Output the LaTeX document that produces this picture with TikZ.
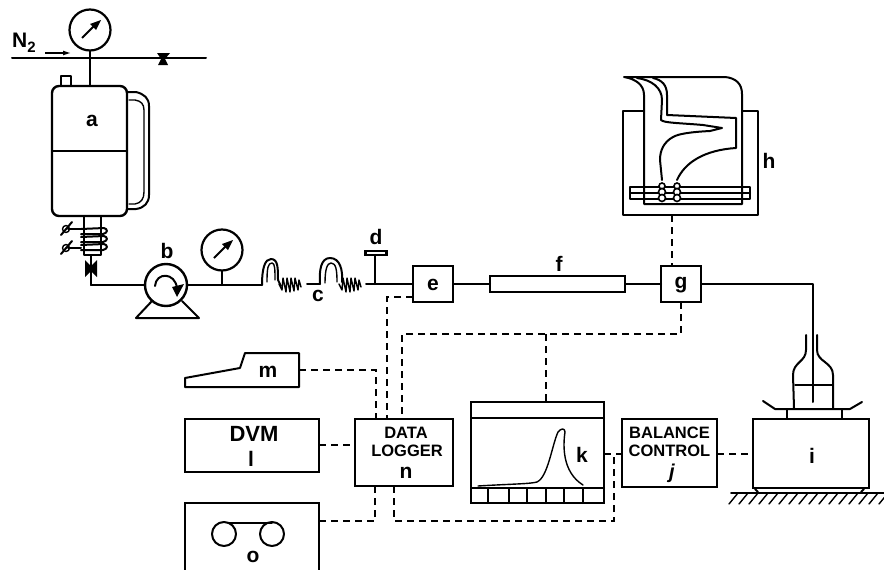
\documentclass[tikz,border=0pt]{standalone}
\usepackage{fontspec}
\setmainfont{Liberation Sans}
\usetikzlibrary{calc,arrows.meta}
\tikzset{
  x=1pt,y=-1pt,
  ln/.style={line width=2pt,black,line cap=round,line join=round},
  thinln/.style={line width=1.4pt,black,line cap=round,line join=round},
  dsh/.style={line width=1.7pt,black,dash pattern=on 7pt off 5pt},
  boxn/.style={draw,line width=2.3pt,inner sep=0pt,outer sep=0pt},
  lab/.style={font=\bfseries\fontsize{21}{22}\selectfont,inner sep=0pt},
  smalllab/.style={font=\bfseries\fontsize{16.5}{18}\selectfont,inner sep=0pt},
}
\newcommand{\gaugeat}[2]{%
  \node[draw,circle,line width=2.2pt,minimum size=41pt,inner sep=0pt,outer sep=0pt] (#2) at #1 {};
  \draw[line width=2pt] ($(#2)+(-8,8)$) -- ($(#2)+(5,-5)$);
  \fill ($(#2)+(11,-10)$) -- ($(#2)+(0,-6)$) -- ($(#2)+(6,0)$) -- cycle;
}
\newcommand{\coilat}[2]{%
  \draw[thinln] (#1,#2) -- ++(3,6) -- ++(1,-12) -- ++(3,14) -- ++(1,-14) -- ++(3,14) -- ++(1,-14) -- ++(3,13) -- ++(1,-13) -- ++(3,12) -- ++(1,-10) -- ++(2,7);
}
\begin{document}
\begin{tikzpicture}
\useasboundingbox (0,0) rectangle (884,570);
% nitrogen line and gauge
\coordinate (n2a) at (12,58);
\coordinate (n2b) at (206,58);
\draw[ln] (n2a) -- (n2b);
\fill (157,53) -- (170,53) -- (165,59) -- (168,65) -- (158,65) -- (161,59) -- cycle;
\node[lab] (n2) at (24,43) {N\raisebox{-5pt}{\fontsize{15}{15}\selectfont 2}};
\coordinate (ar1) at (45,53); \coordinate (ar2) at (71,53);
\draw[line width=1.2pt,-{Latex[length=8pt,width=5pt]}] (ar1) -- (ar2);
\gaugeat{(90,30)}{ga}
% vessel a
\node[draw,line width=2.4pt,rounded corners=7pt,minimum width=75pt,minimum height=130pt,inner sep=0pt,outer sep=0pt] (a) at (89.5,151) {};
\draw[ln] (a.west) -- (a.east);
\coordinate (atop) at (90,86);
\draw[ln] (ga.south) -- (atop);
\draw[ln] (61,85) -- (61,76) -- (71,76) -- (71,85);
\node[lab] (la) at (92,121) {a};
% side tube
\draw[ln] (128,92) -- (136,92) .. controls (144,94) and (149,98) .. (149,106) -- (149,195) .. controls (149,203) and (144,208) .. (136,209) -- (128,209);
\draw[thinln] (129,100) -- (135,100) .. controls (141,101) and (144,104) .. (144,110) -- (144,192) .. controls (144,199) and (141,203) .. (135,204) -- (129,204);
% neck and coil
\draw[ln] (84,217) -- (84,255) -- (101,255) -- (101,217);
\foreach \yy in {229,237,245}{\draw[ln] (81,\yy) -- (104,\yy-1) .. controls (108,\yy) and (108,\yy+4) .. (103,\yy+5) -- (81,\yy+5);}
\foreach \yy in {229,248}{
  \draw[ln] (68,\yy) -- (81,\yy);
  \draw[thinln] (66,\yy) circle (3.5);
  \draw[ln] (61,\yy+6) -- (72,\yy-7);
}
\coordinate (vlv) at (91,268);
\coordinate (corner) at (91,285);
\draw[ln] (91,255) -- (vlv) -- (corner);
\fill (85,260) -- (91,266) -- (97,260) -- (97,277) -- (91,271) -- (85,277) -- cycle;
% pump b
\node[draw,circle,line width=2.4pt,minimum size=42pt,inner sep=0pt,outer sep=0pt,fill=white] (b) at (166,285) {};
\draw[ln] (corner) -- (b.west);
\draw[ln] (152,301) -- (136,318) -- (199,318) -- (182,301);
\draw[ln] (155,286) .. controls (156,272) and (175,272) .. (177,288);
\fill (172,287) -- (184,284) -- (177,297) -- cycle;
\node[lab] (lb) at (167,251) {b};
% gauge 2
\gaugeat{(222,250)}{gb}
\coordinate (gbj) at (222,285);
\draw[ln] (gb.south) -- (gbj);
% line and coils c
\coordinate (p1) at (262,285);
\draw[ln] (b.east) -- (p1);
\draw[ln] (p1) .. controls (262,268) and (265,259) .. (271,259) .. controls (278,259) and (278,268) .. (278,280) -- (281,286);
\draw[thinln] (267,282) .. controls (267,268) and (268,263) .. (272,263) .. controls (275,263) and (275,270) .. (275,280);
\coilat{279}{284}
\coordinate (p2) at (320,284);
\draw[ln] (307,284) -- (p2);
\draw[ln] (p2) .. controls (319,270) and (321,258) .. (330,258) .. controls (340,258) and (343,270) .. (342,282);
\draw[thinln] (325,283) .. controls (325,270) and (327,263) .. (331,263) .. controls (336,263) and (337,270) .. (337,282);
\coilat{339}{284}
% d
\node[boxn,minimum width=21pt,minimum height=4pt,fill=white] (dbar) at (376,253) {};
\coordinate (dj) at (375,284);
\draw[ln] (dbar.south -| dj) -- (dj);
\node[lab] (ld) at (376,237) {d};
\node[lab] (lc) at (318,296) {c};
% e f g
\node[boxn,minimum width=40pt,minimum height=36pt] (e) at (433,284) {};
\node[lab] (le) at (433,285) {e};
\node[boxn,minimum width=135pt,minimum height=16pt] (f) at (557.5,284) {};
\node[lab] (lf) at (559,264) {f};
\node[boxn,minimum width=40pt,minimum height=36pt] (g) at (681,284) {};
\node[lab] (lg) at (681,285) {g};
\draw[ln] (366,284) -- (e.west);
\draw[ln] (e.east) -- (f.west);
\draw[ln] (f.east) -- (g.west);
\coordinate (gc) at (813,284);
\coordinate (bot) at (813,402);
\draw[ln] (g.east) -- (gc) -- (bot);
% h bath
\coordinate (hbl) at (623,215);
\coordinate (hbr) at (758,215);
\draw[ln] (644,111) -- (623,111) -- (hbl) -- (hbr) -- (758,111) -- (742,111);
\node[lab] (lh) at (769,161) {h};
% inner vessel
\draw[ln] (624,77) -- (725,77) .. controls (736,78) and (742,84) .. (742,94) -- (742,204) -- (644,204) -- (644,95) .. controls (644,85) and (636,79) .. (624,77);
\draw[ln] (637,78) .. controls (652,80) and (662,88) .. (662,100) -- (661,120) .. controls (664,123) and (680,123) .. (703,125) -- (722,128) -- (710,131) .. controls (690,132) and (678,134) .. (673,137) .. controls (664,142) and (660,150) .. (660,160) -- (662,180);
\draw[ln] (653,78) .. controls (662,80) and (667,85) .. (667,95) -- (667,115) -- (736,118) -- (736,148) .. controls (705,150) and (685,162) .. (677,180);
% clamps
\draw[ln] (630,187) rectangle (750,199);
\draw[ln] (630,193) -- (750,193);
\foreach \xx in {662,677}{
  \draw[line width=1.6pt,fill=white] (\xx,186) circle (3);
  \draw[line width=1.6pt,fill=white] (\xx,192) circle (3.5);
  \draw[line width=1.6pt,fill=white] (\xx,198) circle (3.5);
}
% lower instruments
\node[boxn,minimum width=98pt,minimum height=67pt] (dl) at (404,452.5) {};
\node[boxn,minimum width=134pt,minimum height=53pt] (dvm) at (252,445.5) {};
\coordinate (otl) at (185,503); \coordinate (otr) at (319,503);
\draw[line width=2.3pt] (185,571) -- (otl) -- (otr) -- (319,571);
\node[boxn,minimum width=133pt,minimum height=101pt] (k) at (537.5,452.5) {};
\node[boxn,minimum width=95pt,minimum height=68pt] (j) at (669.5,453) {};
\node[boxn,minimum width=116pt,minimum height=69pt] (i) at (811,453.5) {};
% m
\coordinate (mc) at (299,370);
\draw[ln] (185,378) -- (185,387) -- (299,387) -- (299,353) -- (245,353) -- (240,368) -- cycle;
\node[lab] (lm) at (268,372) {m};
% dashed connectors
\draw[dsh] (672,215) -- (672,266);
\draw[dsh] (mc) -- (376,370) -- (376,419);
\draw[dsh] (e.west |- 0,297) -- (387,297) -- (387,419);
\draw[dsh] (g.south) -- (681,334) -- (402,334) -- (402,419);
\draw[dsh] (546,334) -- (546,402);
\draw[dsh] (dvm.east |- 0,445) -- (dl.west |- 0,445);
\draw[dsh] (otr |- 0,521) -- (375,521) -- (375,486);
\draw[dsh] (394,486) -- (394,521) -- (614,521) -- (614,454);
\draw[dsh] (k.east |- 0,454) -- (j.west |- 0,454);
\draw[dsh] (j.east |- 0,454) -- (i.west |- 0,454);
% labels in boxes
\node[lab,font=\bfseries\fontsize{22}{23}\selectfont] (t1) at (254,434) {DVM};
\node[lab] (t2) at (251,459) {l};
\node[smalllab] (t3a) at (406,433) {DATA};
\node[smalllab] (t3b) at (407,451) {LOGGER};
\node[lab] (t4) at (406,473) {n};
\node[smalllab] (t5a) at (669.5,433) {BALANCE};
\node[smalllab] (t5b) at (669.5,451) {CONTROL};
\node[lab,font=\bfseries\itshape\fontsize{20}{21}\selectfont] (t6) at (672,473) {j};
\node[lab] (t7) at (812,456) {i};
\node[lab] (t8) at (582,455) {k};
\node[lab] (t9) at (253,557) {o};
% k details
\draw[ln] (471,418) -- (604,418);
\draw[ln] (471,488) -- (604,488);
\foreach \xx in {488,509,527,546,564,583}{\draw[ln] (\xx,488) -- (\xx,503);}
\draw[thinln] (478,486) .. controls (510,484) and (530,484) .. (537,482) .. controls (548,477) and (552,445) .. (558,432) .. controls (561,428) and (565,428) .. (565,432) .. controls (563,445) and (562,472) .. (583,485);
% reels
\draw[ln] (228,523) -- (272,523);
\draw[ln] (224,534) circle (12);
\draw[ln] (272,534) circle (12);
% bottle
\draw[ln] (794,408) -- (793,375) .. controls (793,362) and (806,362) .. (806,350) -- (806,335);
\draw[ln] (833,408) -- (833,375) .. controls (833,362) and (817,362) .. (817,350) -- (817,335);
\draw[thinln] (795,385) -- (832,385);
\draw[ln] (763,401) -- (775,409) -- (850,409) -- (862,402);
\draw[ln] (787,410) -- (787,418); \draw[ln] (842,410) -- (842,418);
% feet and ground
\draw[ln] (755,489) -- (758,492);
\draw[ln] (864,489) -- (861,492);
\coordinate (gr1) at (731,493); \coordinate (gr2) at (884,493);
\draw[ln] (gr1) -- (gr2);
\foreach \xx in {738,748,...,888}{\draw[thinln] (\xx,493) -- (\xx-9,504);}
\end{tikzpicture}
\end{document}
